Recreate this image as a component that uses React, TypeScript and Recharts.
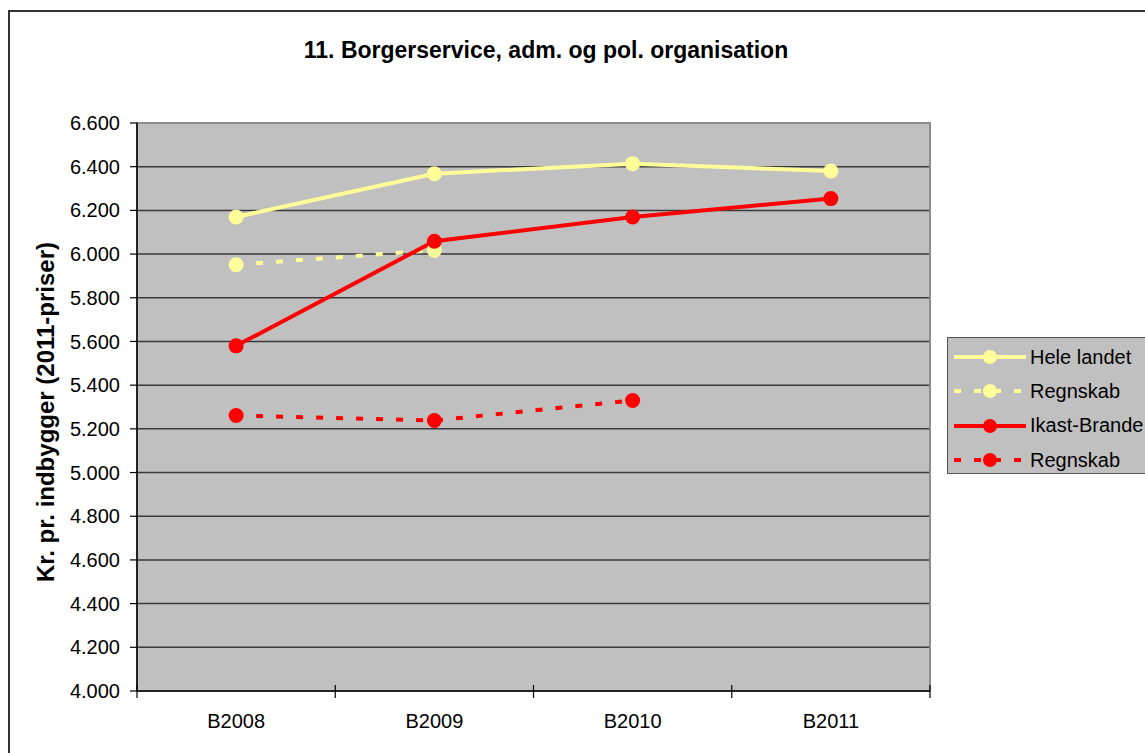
import { LineChart, Line, XAxis, YAxis, CartesianGrid, ReferenceArea } from 'recharts';

const years = ['B2008', 'B2009', 'B2010', 'B2011'];
const heleLandet = [6170, 6368, 6414, 6380];
const heleRegnskab = [5951, 6018, null, null];
const ikastBrande = [5580, 6059, 6170, 6254];
const ikastRegnskab = [5261, 5238, 5330, null];
const yTicks = [4000, 4200, 4400, 4600, 4800, 5000, 5200, 5400, 5600, 5800, 6000, 6200, 6400, 6600];

const data = years.map((year, i) => ({
  year,
  hele: heleLandet[i],
  heleR: heleRegnskab[i],
  ikast: ikastBrande[i],
  ikastR: ikastRegnskab[i],
}));

const YELLOW = '#FFFF99';
const RED = '#FF0000';
const DASH = '7 13';

const series = [
  { key: 'hele', name: 'Hele landet', color: YELLOW, dash: undefined },
  { key: 'heleR', name: 'Regnskab', color: YELLOW, dash: DASH },
  { key: 'ikast', name: 'Ikast-Brande', color: RED, dash: undefined },
  { key: 'ikastR', name: 'Regnskab', color: RED, dash: DASH },
];

const fmt = (v: number) => `${Math.floor(v / 1000)}.${String(v % 1000).padStart(3, '0')}`;

const font = '"Liberation Sans", Arial, sans-serif';

const X_TICK_SIZE = 6;
const X_TICK_MARGIN = 17;

// category label plus Excel-style tick marks at the band edges
const renderXTick = (props: any) => {
  const { x, y, payload, index } = props;
  const half = payload?.offset ?? 0;
  const axisY = y - X_TICK_SIZE - X_TICK_MARGIN;
  const edge = (ex: number, k: string) => (
    <line key={k} x1={ex} x2={ex} y1={axisY - 6} y2={axisY + 7} stroke="#000" strokeWidth={1.2} />
  );
  return (
    <g key={index}>
      {edge(x - half, 'l')}
      {index === years.length - 1 && edge(x + half, 'r')}
      <text x={x} y={y} dy="0.71em" textAnchor="middle" fill="#000" fontSize={20} fontFamily={font}>
        {payload.value}
      </text>
    </g>
  );
};

export default function App() {
  return (
    <div
      style={{
        position: 'fixed',
        left: 0,
        top: 0,
        width: 1145,
        height: 753,
        overflow: 'hidden',
        background: '#fff',
        fontFamily: font,
      }}
    >
      <div
        style={{
          position: 'absolute',
          left: 8,
          top: 10,
          width: 1300,
          height: 900,
          border: '2px solid #333',
        }}
      />
      <div style={{ position: 'absolute', left: 0, top: 0 }}>
        <LineChart
          width={1145}
          height={753}
          data={data}
          margin={{ top: 123, right: 215, left: 67, bottom: 22 }}
        >
          <CartesianGrid vertical={false} fill="#C0C0C0" stroke="#3a3a3a" strokeWidth={1.5} />
          <ReferenceArea
            x1="B2008"
            x2="B2011"
            y1={4000}
            y2={6600}
            fill="none"
            stroke="#8c8c8c"
            strokeWidth={2}
            ifOverflow="extendDomain"
          />
          <XAxis
            dataKey="year"
            scale="band"
            height={40}
            axisLine={{ stroke: '#000', strokeWidth: 1.5 }}
            tickLine={false}
            tickSize={X_TICK_SIZE}
            tickMargin={X_TICK_MARGIN}
            tick={renderXTick}
          />
          <YAxis
            width={70}
            domain={[4000, 6600]}
            ticks={yTicks}
            interval={0}
            tickFormatter={fmt}
            axisLine={{ stroke: '#000', strokeWidth: 1.5 }}
            tickLine={{ stroke: '#000', strokeWidth: 1.2 }}
            tickSize={7}
            tickMargin={10}
            tick={{ fill: '#000', fontSize: 20, fontFamily: font }}
          />
          {series.map((s) => (
            <Line
              key={s.key}
              dataKey={s.key}
              name={s.name}
              stroke={s.color}
              strokeWidth={4}
              strokeDasharray={s.dash}
              dot={{ r: 7.5, fill: s.color, stroke: 'none', strokeDasharray: '' }}
              activeDot={false}
              connectNulls={false}
              isAnimationActive={false}
            />
          ))}
        </LineChart>
      </div>
      <div
        style={{
          position: 'absolute',
          left: 0,
          top: 39,
          width: 1092,
          textAlign: 'center',
          fontSize: 23,
          lineHeight: '23px',
          fontWeight: 'bold',
          color: '#000',
          whiteSpace: 'nowrap',
        }}
      >
        11. Borgerservice, adm. og pol. organisation
      </div>
      <div
        style={{
          position: 'absolute',
          left: 46,
          top: 412,
          transform: 'translate(-50%, -50%) rotate(-90deg)',
          fontSize: 24,
          fontWeight: 'bold',
          whiteSpace: 'nowrap',
          color: '#000',
        }}
      >
        Kr. pr. indbygger (2011-priser)
      </div>
      <div
        style={{
          position: 'absolute',
          left: 947,
          top: 337,
          width: 260,
          height: 137,
          background: '#C0C0C0',
          border: '1.5px solid #555',
          boxSizing: 'border-box',
          paddingTop: 2,
        }}
      >
        {series.map((s) => (
          <div key={s.key} style={{ display: 'flex', alignItems: 'center', height: 34.3 }}>
            <svg width={82} height={20} style={{ flex: 'none' }}>
              <line x1={6} x2={78} y1={10} y2={10} stroke={s.color} strokeWidth={4} strokeDasharray={s.dash} />
              <circle cx={42} cy={10} r={7} fill={s.color} />
            </svg>
            <span style={{ fontSize: 20, color: '#000', whiteSpace: 'nowrap' }}>{s.name}</span>
          </div>
        ))}
      </div>
    </div>
  );
}
